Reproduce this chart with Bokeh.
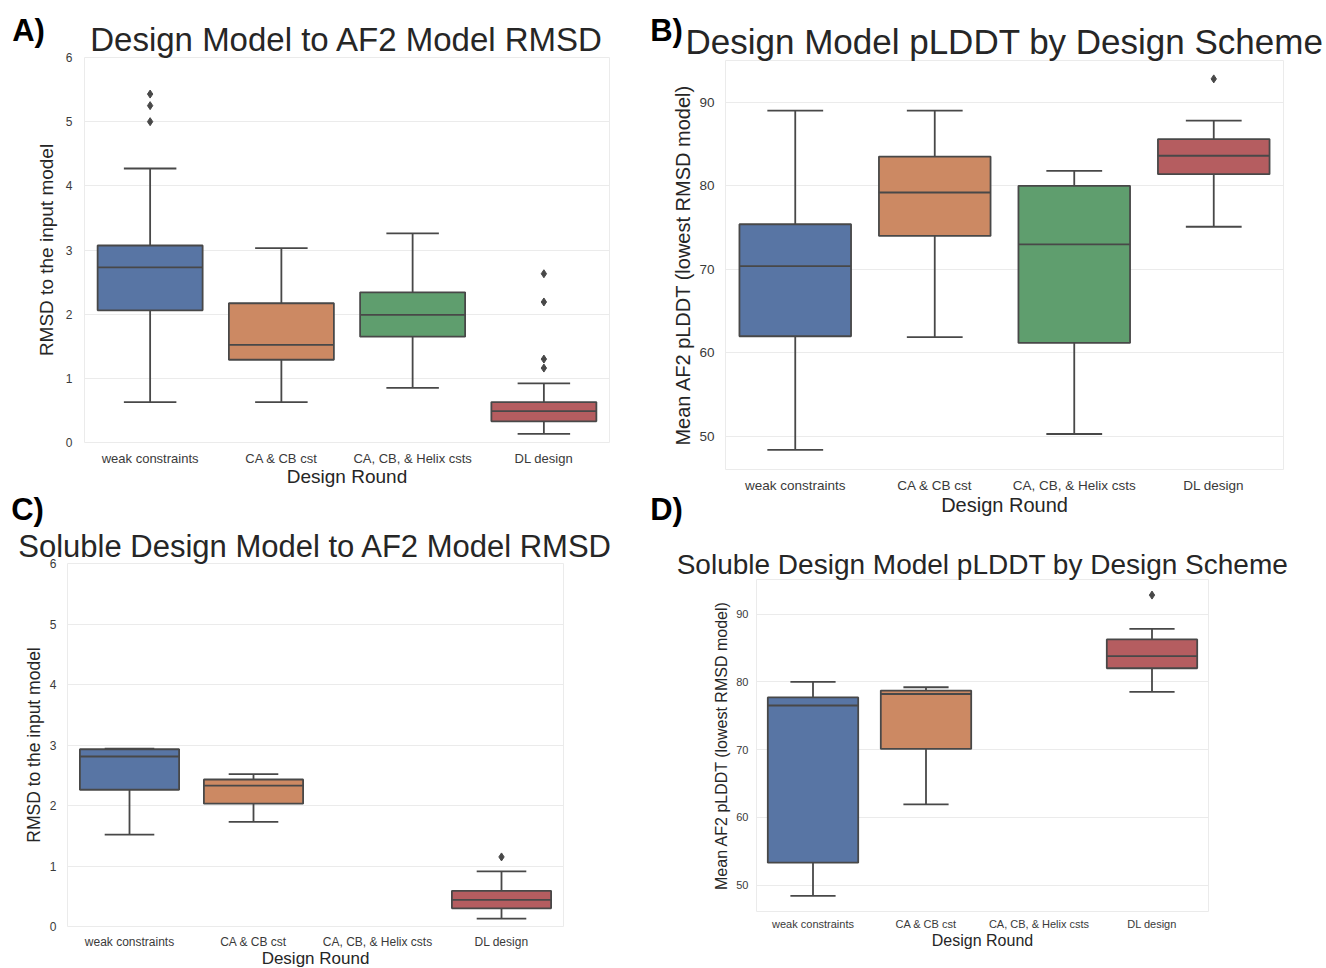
from bokeh.plotting import figure
from bokeh.models import ColumnDataSource, Range1d, FactorRange, SingleIntervalTicker, Label
from bokeh.transform import dodge
from bokeh.embed import file_html
from bokeh.resources import INLINE
from bokeh.core.templates import get_env

# ---- categories -----------------------------------------------------------
categories = ["weak constraints", "CA & CB cst", "CA, CB, & Helix csts", "DL design"]

# ---- A) design model to AF2 model RMSD (box statistics) -------------------
rmsd_cats = ["weak constraints", "CA & CB cst", "CA, CB, & Helix csts", "DL design"]
rmsd_low = [0.63, 0.63, 0.85, 0.135]
rmsd_q1 = [2.06, 1.29, 1.65, 0.33]
rmsd_med = [2.73, 1.52, 1.99, 0.49]
rmsd_q3 = [3.07, 2.17, 2.34, 0.63]
rmsd_high = [4.27, 3.03, 3.26, 0.92]
rmsd_out_cat = ["weak constraints"] * 3 + ["DL design"] * 4
rmsd_out_val = [5.00, 5.25, 5.43, 1.16, 1.30, 2.19, 2.63]

# ---- B) design model pLDDT -------------------------------------------------
plddt_cats = ["weak constraints", "CA & CB cst", "CA, CB, & Helix csts", "DL design"]
plddt_low = [48.4, 61.9, 50.3, 75.1]
plddt_q1 = [62.0, 74.0, 61.2, 81.4]
plddt_med = [70.4, 79.2, 73.0, 83.6]
plddt_q3 = [75.4, 83.5, 80.0, 85.6]
plddt_high = [89.0, 89.0, 81.8, 87.8]
plddt_out_cat = ["DL design"]
plddt_out_val = [92.8]

# ---- C) soluble design model RMSD -----------------------------------------
sol_rmsd_cats = ["weak constraints", "CA & CB cst", "DL design"]
sol_rmsd_low = [1.52, 1.73, 0.13]
sol_rmsd_q1 = [2.26, 2.03, 0.30]
sol_rmsd_med = [2.81, 2.33, 0.44]
sol_rmsd_q3 = [2.93, 2.43, 0.59]
sol_rmsd_high = [2.94, 2.52, 0.91]
sol_rmsd_out_cat = ["DL design"]
sol_rmsd_out_val = [1.15]

# ---- D) soluble design model pLDDT ----------------------------------------
sol_plddt_cats = ["weak constraints", "CA & CB cst", "DL design"]
sol_plddt_low = [48.4, 61.9, 78.5]
sol_plddt_q1 = [53.3, 70.1, 82.0]
sol_plddt_med = [76.5, 78.2, 83.8]
sol_plddt_q3 = [77.7, 78.7, 86.25]
sol_plddt_high = [80.0, 79.2, 87.8]
sol_plddt_out_cat = ["DL design"]
sol_plddt_out_val = [92.8]

palette = {
    "weak constraints": "#5875A4",
    "CA & CB cst": "#CC8963",
    "CA, CB, & Helix csts": "#5F9E6E",
    "DL design": "#B55D60",
}
LINE = "#484848"
FONT = "Liberation Sans"
TEXT = "#262626"


def box_panel(title, ylabel, cats, low, q1, med, q3, high, out_cat, out_val,
              yrange, interval, frame, borders, fonts, standoffs):
    fw, fh = frame
    left, top, right, bottom = borders
    title_fs, ylab_fs, ytick_fs, xtick_fs, xlab_fs = fonts
    ytick_so, ylab_so, xtick_so, xlab_so = standoffs

    p = figure(x_range=FactorRange(*categories), y_range=Range1d(*yrange),
               frame_width=fw, frame_height=fh,
               min_border_left=left, min_border_top=top,
               min_border_right=right, min_border_bottom=bottom,
               output_backend="svg", toolbar_location=None, title=title)

    p.title.align = "center"
    p.title.text_font = FONT
    p.title.text_font_size = f"{title_fs}px"
    p.title.text_font_style = "normal"
    p.title.text_color = TEXT
    p.title.standoff = 0

    p.background_fill_color = "white"
    p.border_fill_color = "white"
    p.outline_line_color = "#ebebeb"
    p.xgrid.grid_line_color = None
    p.ygrid.grid_line_color = "#ebebeb"
    p.ygrid.grid_line_width = 1

    p.yaxis.ticker = SingleIntervalTicker(interval=interval)
    for ax in (p.xaxis[0], p.yaxis[0]):
        ax.axis_line_color = None
        ax.major_tick_line_color = None
        ax.minor_tick_line_color = None
        ax.major_tick_out = 0
        ax.major_tick_in = 0
        ax.minor_tick_out = 0
        ax.major_label_text_font = FONT
        ax.major_label_text_color = "#3a3a3a"
        ax.axis_label_text_font = FONT
        ax.axis_label_text_font_style = "normal"
        ax.axis_label_text_color = TEXT
    p.yaxis.axis_label = ylabel
    p.xaxis.axis_label = "Design Round"
    p.yaxis.major_label_text_font_size = f"{ytick_fs}px"
    p.xaxis.major_label_text_font_size = f"{xtick_fs}px"
    p.yaxis.axis_label_text_font_size = f"{ylab_fs}px"
    p.xaxis.axis_label_text_font_size = f"{xlab_fs}px"
    p.yaxis.major_label_standoff = ytick_so
    p.yaxis.axis_label_standoff = ylab_so
    p.xaxis.major_label_standoff = xtick_so
    p.xaxis.axis_label_standoff = xlab_so

    src = ColumnDataSource(dict(cat=cats, low=low, q1=q1, med=med, q3=q3, high=high,
                                color=[palette[c] for c in cats]))
    xr = p.x_range
    # whiskers
    p.segment(x0="cat", y0="q3", x1="cat", y1="high", source=src, line_color=LINE, line_width=1.8)
    p.segment(x0="cat", y0="low", x1="cat", y1="q1", source=src, line_color=LINE, line_width=1.8)
    # whisker caps
    p.segment(x0=dodge("cat", -0.2, range=xr), y0="high", x1=dodge("cat", 0.2, range=xr), y1="high",
              source=src, line_color=LINE, line_width=1.8)
    p.segment(x0=dodge("cat", -0.2, range=xr), y0="low", x1=dodge("cat", 0.2, range=xr), y1="low",
              source=src, line_color=LINE, line_width=1.8)
    # boxes
    p.vbar(x="cat", width=0.8, bottom="q1", top="q3", source=src,
           fill_color="color", line_color=LINE, line_width=1.8)
    # medians
    p.segment(x0=dodge("cat", -0.4, range=xr), y0="med", x1=dodge("cat", 0.4, range=xr), y1="med",
              source=src, line_color=LINE, line_width=1.8)
    # outliers
    p.scatter(x=out_cat, y=out_val, marker="diamond", size=8,
              fill_color=LINE, line_color=LINE)
    return p


pa = box_panel("Design Model to AF2 Model RMSD", "RMSD to the input model",
               rmsd_cats, rmsd_low, rmsd_q1, rmsd_med, rmsd_q3, rmsd_high,
               rmsd_out_cat, rmsd_out_val, (0, 6), 1,
               (525, 385), (84, 57, 31, 48), (33, 19, 12, 13, 19), (12, 6, 8, -3))
pb = box_panel("Design Model pLDDT by Design Scheme", "Mean AF2 pLDDT (lowest RMSD model)",
               plddt_cats, plddt_low, plddt_q1, plddt_med, plddt_q3, plddt_high,
               plddt_out_cat, plddt_out_val, (46.05, 95.0), 10,
               (558, 409), (85, 60, 43, 51), (35, 20, 13.5, 13.5, 20), (11, 2, 8, -2))
pc = box_panel("Soluble Design Model to AF2 Model RMSD", "RMSD to the input model",
               sol_rmsd_cats, sol_rmsd_low, sol_rmsd_q1, sol_rmsd_med, sol_rmsd_q3, sol_rmsd_high,
               sol_rmsd_out_cat, sol_rmsd_out_val, (0, 6), 1,
               (496, 363), (67, 73, 77, 42), (31, 17.5, 12, 12, 17), (11, 3, 8, -3))
pd = box_panel("Soluble Design Model pLDDT by Design Scheme", "Mean AF2 pLDDT (lowest RMSD model)",
               sol_plddt_cats, sol_plddt_low, sol_plddt_q1, sol_plddt_med, sol_plddt_q3, sol_plddt_high,
               sol_plddt_out_cat, sol_plddt_out_val, (46.1, 95.1), 10,
               (452, 332), (116, 59, 118, 57), (28, 16, 11, 11, 16), (8, 3, 6, -1))

# transparent page-sized layer carrying the panel letters
letters = figure(frame_width=1326, frame_height=968, x_range=Range1d(0, 1326), y_range=Range1d(968, 0),
                 min_border=0, x_axis_location=None, y_axis_location=None,
                 output_backend="svg", toolbar_location=None)
letters.grid.visible = False
letters.outline_line_color = None
letters.background_fill_alpha = 0
letters.border_fill_alpha = 0
for txt, lx, ly in [("A)", 28, 30), ("B)", 666, 30), ("C)", 27, 509), ("D)", 666, 509)]:
    letters.add_layout(Label(x=lx, y=ly, text=txt, text_font=FONT, text_font_size="31px",
                             text_font_style="bold", text_color="black",
                             text_align="center", text_baseline="middle"))

# page placement of each figure (root index, left, top in pixels)
placement = [(0, 0, 0), (1, 640, 0), (2, 0, 490), (3, 640, 520), (4, 0, 0)]

page = get_env().from_string("""{% extends base %}
{% block contents %}
{% from macros import embed %}
{% for idx, left, top in placement %}
<div style="position:absolute; left:{{ left }}px; top:{{ top }}px;">{{ embed(roots[idx]) }}</div>
{% endfor %}
{% endblock %}
""")

open("out.html", "w").write(file_html([pa, pb, pc, pd, letters], INLINE, template=page,
                                      template_variables={"placement": placement}))
